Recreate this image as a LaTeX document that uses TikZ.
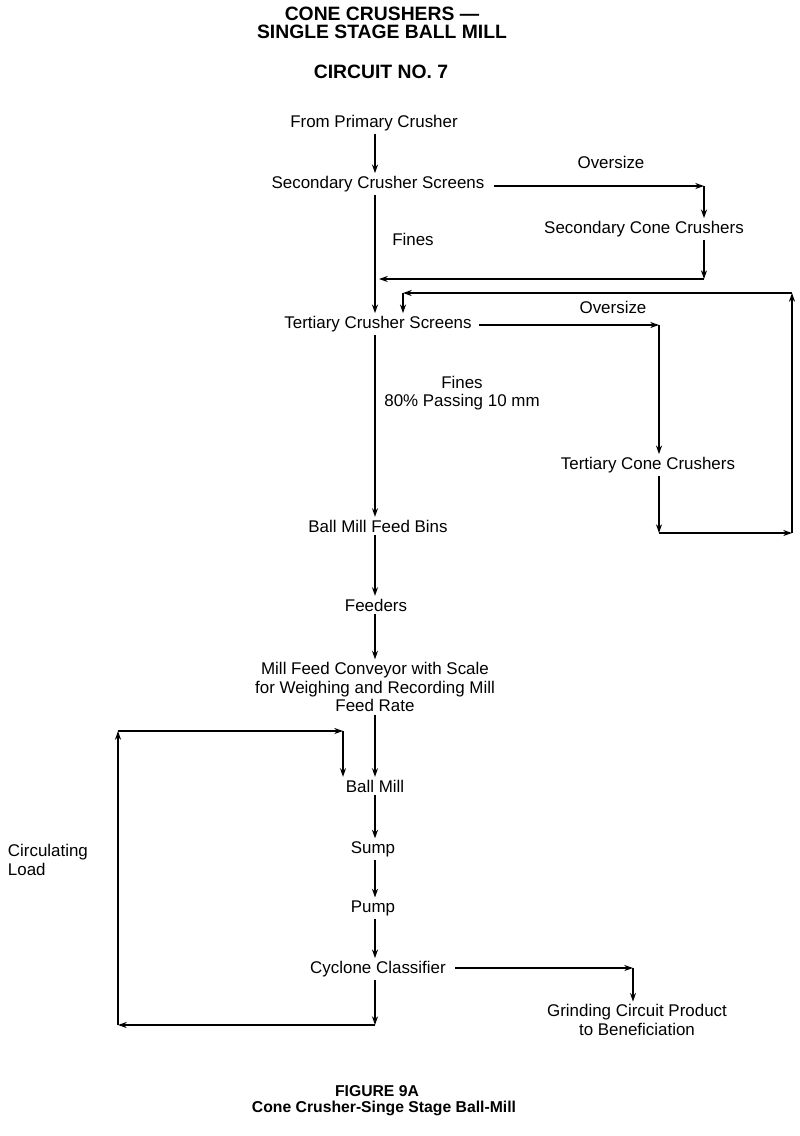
\documentclass[tikz,border=0pt]{standalone}
\usepackage{fontspec}
\setmainfont{Liberation Sans}
\usetikzlibrary{arrows.meta}

\tikzset{
  lbl/.style={inner sep=2pt, font=\fontsize{12.7}{13.9}\selectfont, align=center},
  ttl/.style={inner sep=0.75pt, font=\bfseries\fontsize{14.5}{13.5}\selectfont, align=center},
  figcap/.style={inner sep=0.75pt, font=\bfseries\fontsize{11.8}{12.8}\selectfont, align=center},
  flow/.style={line width=1.4pt, -{Stealth[length=6.5pt,width=4.5pt]}},
}

\begin{document}
\begin{tikzpicture}[x=0.75pt,y=0.75pt,yscale=-1,xscale=1]
    \path[use as bounding box, fill=white] (0,0) rectangle (800,1136);

    % Column of the main stream
    \coordinate (col) at (375,0);

    % Text Node
    \draw (382,23) node [ttl] (title) {CONE CRUSHERS ---\\SINGLE STAGE BALL MILL};
    % Text Node
    \draw (381,72) node [ttl] (circ) {CIRCUIT NO. 7};
    % Text Node
    \draw (374,123) node [lbl] (from) {From Primary Crusher};
    % Text Node
    \draw (378,184) node [lbl] (sec) {Secondary Crusher Screens};
    % Text Node
    \draw (611,162) node [lbl] (over1) {Oversize};
    % Text Node
    \draw (644,229) node [lbl] (secc) {Secondary Cone Crushers};
    % Text Node
    \draw (413,239) node [lbl] (fine1) {Fines};
    % Text Node
    \draw (378,324) node [lbl] (ter) {Tertiary Crusher Screens};
    % Text Node
    \draw (613,307) node [lbl] (over2) {Oversize};
    % Text Node
    \draw (462,393) node [lbl] (fine2) {Fines\\80\% Passing 10 mm};
    % Text Node
    \draw (648,465) node [lbl] (terc) {Tertiary Cone Crushers};
    % Text Node
    \draw (378,526) node [lbl] (bins) {Ball Mill Feed Bins};
    % Text Node
    \draw (376,605) node [lbl] (feed) {Feeders};
    % Text Node
    \draw (375,687) node [lbl] (conv) {Mill Feed Conveyor with Scale\\for Weighing and Recording Mill\\Feed Rate};
    % Text Node
    \draw (375,786) node [lbl] (ball) {Ball Mill};
    % Text Node
    \draw (373,849) node [lbl] (sump) {Sump};
    % Text Node
    \draw (373,908) node [lbl] (pump) {Pump};
    % Text Node
    \draw (378,969) node [lbl] (cyc) {Cyclone Classifier};
    % Text Node
    \draw (637,1020) node [lbl] (prod) {Grinding Circuit Product\\to Beneficiation};
    % Text Node
    \draw (5,860) node [lbl, anchor=west, align=left] (circl) {Circulating\\Load};
    % Text Node
    \draw (377,1091) node [figcap] (fig) {FIGURE 9A};
    % Text Node
    \draw (384,1108) node [figcap] (figt) {Cone Crusher-Singe Stage Ball-Mill};

    % Corners
    \coordinate (s1) at (704,186);
    \coordinate (s2) at (704,279);
    \coordinate (t1) at (659,325);
    \coordinate (t2) at (659,533);
    \coordinate (t3) at (792,533);
    \coordinate (t4) at (792,293);
    \coordinate (t5) at (403,293);
    \coordinate (b1) at (375,1025);
    \coordinate (b2) at (118,1025);
    \coordinate (b3) at (118,731);
    \coordinate (b4) at (343,731);
    \coordinate (p1) at (633,968);

    % Main stream
    \draw[flow] (from.south -| col) -- (sec.north -| col);
    \draw[flow] (sec.south -| col) -- (ter.north -| col);
    \draw[flow] (ter.south -| col) -- (bins.north -| col);
    \draw[flow] (bins.south -| col) -- (feed.north -| col);
    \draw[flow] (feed.south -| col) -- (conv.north -| col);
    \draw[flow] (conv.south -| col) -- (ball.north -| col);
    \draw[flow] (ball.south -| col) -- (sump.north -| col);
    \draw[flow] (sump.south -| col) -- (pump.north -| col);
    \draw[flow] (pump.south -| col) -- (cyc.north -| col);

    % Secondary crushing
    \draw[flow, shorten <=5pt] (sec.east |- s1) -- (s1);
    \draw[flow] (s1) -- (secc.north -| s1);
    \draw[flow] (secc.south -| s1) -- (s2);
    \draw[flow, shorten >=3pt] (s2) -- (s2 -| col);

    % Tertiary crushing loop
    \draw[flow, shorten <=3pt] (ter.east |- t1) -- (t1);
    \draw[flow] (t1) -- (terc.north -| t1);
    \draw[flow] (terc.south -| t1) -- (t2);
    \draw[flow] (t2) -- (t3);
    \draw[flow] (t3) -- (t4);
    \draw[flow] (t4) -- (t5);
    \draw[flow] (t5) -- (ter.north -| t5);

    % Circulating load
    \draw[flow] (cyc.south -| col) -- (b1);
    \draw[flow] (b1) -- (b2);
    \draw[flow] (b2) -- (b3);
    \draw[flow] (b3) -- (b4);
    \draw[flow] (b4) -- (ball.north -| b4);

    % Product
    \draw[flow, shorten <=5pt] (cyc.east |- p1) -- (p1);
    \draw[flow] (p1) -- (prod.north -| p1);

\end{tikzpicture}
\end{document}
